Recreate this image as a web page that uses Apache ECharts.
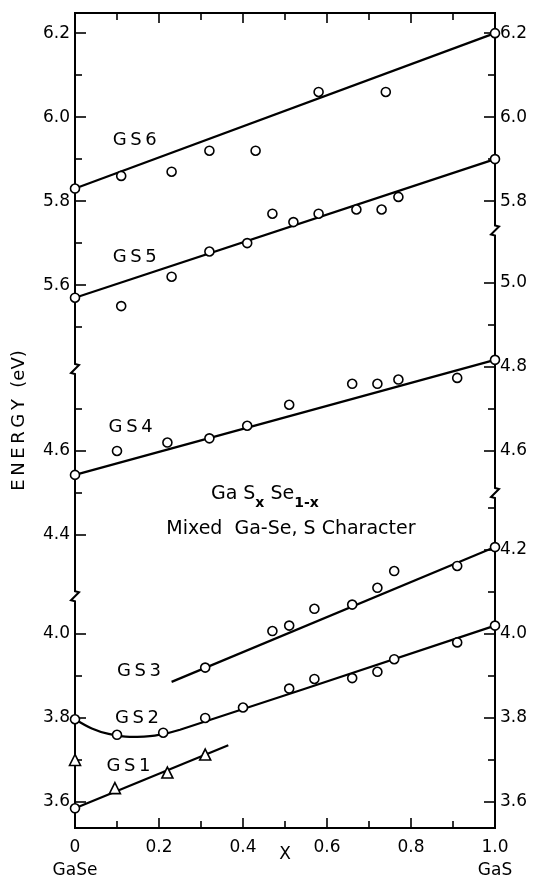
<!DOCTYPE html>
<html><head><meta charset="utf-8">
<script src="https://cdn.jsdelivr.net/npm/echarts@6/dist/echarts.min.js"></script>
<style>html,body{margin:0;padding:0;background:#fff}#c{width:542px;height:878px}</style>
</head><body><div id="c"></div>
<script>
// ---------- data (energies in eV, x = S fraction) ----------
const gs6X = [0, 0.11, 0.23, 0.32, 0.43, 0.58, 0.74, 1.0];
const gs6Y = [5.83, 5.86, 5.87, 5.92, 5.92, 6.06, 6.06, 6.20];
const gs5X = [0, 0.11, 0.23, 0.32, 0.41, 0.47, 0.52, 0.58, 0.67, 0.73, 0.77, 1.0];
const gs5Y = [5.57, 5.55, 5.62, 5.68, 5.70, 5.77, 5.75, 5.77, 5.78, 5.78, 5.81, 5.90];
const gs4X = [0, 0.10, 0.22, 0.32, 0.41, 0.51, 0.66, 0.72, 0.77, 0.91, 1.0];
const gs4Y = [4.543, 4.60, 4.62, 4.63, 4.66, 4.71, 4.76, 4.76, 4.77, 4.774, 4.817];
const gs3X = [0.31, 0.47, 0.51, 0.57, 0.66, 0.72, 0.76, 0.91, 1.0];
const gs3Y = [3.92, 4.007, 4.02, 4.06, 4.07, 4.11, 4.15, 4.162, 4.207];
const gs2X = [0, 0.10, 0.21, 0.31, 0.40, 0.51, 0.57, 0.66, 0.72, 0.76, 0.91, 1.0];
const gs2Y = [3.797, 3.76, 3.765, 3.80, 3.825, 3.87, 3.893, 3.895, 3.91, 3.94, 3.98, 4.02];
const gs1TriX = [0, 0.095, 0.22, 0.31];
const gs1TriY = [3.70, 3.633, 3.67, 3.713];
const gs1CircX = [0];
const gs1CircY = [3.585];

// fitted curves (vertices)
const fit6X = [0, 1.0],   fit6Y = [5.83, 6.20];
const fit5X = [0, 1.0],   fit5Y = [5.57, 5.90];
const fit4X = [0, 1.0],   fit4Y = [4.543, 4.817];
const fit3X = [0.23, 1.0], fit3Y = [3.886, 4.207];
const fit2X = [0, 0.04, 0.08, 0.13, 0.19, 0.25, 1.0];
const fit2Y = [3.797, 3.775, 3.762, 3.755, 3.758, 3.772, 4.02];
const fit1X = [0, 0.365], fit1Y = [3.585, 3.735];

// axis tick values per broken-axis segment
const xLabelTicks = [0, 0.2, 0.4, 0.6, 0.8, 1.0];
const leftLowMajor = [3.6, 3.8, 4.0],           leftLowMinor = [3.7, 3.9];
const leftMidMajor = [4.4, 4.6],                leftMidMinor = [4.5, 4.7];
const leftUpMajor  = [5.6, 5.8, 6.0, 6.2],      leftUpMinor  = [5.5, 5.7, 5.9, 6.1];
const rightLowMajor = [3.6, 3.8, 4.0, 4.2],     rightLowMinor = [3.7, 3.9, 4.1, 4.3];
const rightMidMajor = [4.6, 4.8, 5.0],          rightMidMinor = [4.7, 4.9];
const rightUpMajor  = [5.8, 6.0, 6.2],          rightUpMinor  = [5.9, 6.1];

// segment value ranges (lower segment) and shifts of the other segments
const Y_MIN = 3.538, Y_MAX = 5.479;
const MID_OFF = 0.164, UP_OFF = 0.769;

// break positions: [segment, value]
const leftBreaks  = [['up', 5.40], ['low', 4.09]];
const rightBreaks = [['up', 5.73], ['mid', 4.50]];

// text labels: [text, x, energy, segment]
const curveLabels = [
  ['G\u2009S\u20096', 0.09, 5.945, 'up'],
  ['G\u2009S\u20095', 0.09, 5.667, 'up'],
  ['G\u2009S\u20094', 0.08, 4.657, 'mid'],
  ['G\u2009S\u20093', 0.10, 3.91, 'low'],
  ['G\u2009S\u20092', 0.095, 3.80, 'low'],
  ['G\u2009S\u20091', 0.075, 3.685, 'low']
];
const noteFormula = [0.452, 4.49, 'mid'];
const noteText = ['Mixed  Ga-Se, S Character', 0.514, 4.415, 'mid'];
const yName = 'E\u2009N\u2009E\u2009R\u2009G\u2009Y  (eV)';

// ---------- chart ----------
const FONT = 'DejaVu Sans';
const pts = (xs, ys) => xs.map((x, i) => [x, ys[i]]);
const SEG = {low: 0, mid: 2, up: 4};

function yAx(position, off, ticks, len, showLabel, name) {
  const a = {
    type: 'value', position,
    min: +(Y_MIN + off).toFixed(4), max: +(Y_MAX + off).toFixed(4),
    axisLine: {show: false}, splitLine: {show: false},
    axisTick: {show: true, inside: true, length: len, customValues: ticks,
               lineStyle: {color: '#000', width: 1.6}},
    axisLabel: {show: showLabel, customValues: ticks, margin: 5,
                formatter: v => Number(v).toFixed(1),
                color: '#000', fontFamily: FONT, fontSize: 17}
  };
  if (name) {
    a.name = name; a.nameLocation = 'middle'; a.nameGap = 47; a.nameMoveOverlap = false;
    a.nameTextStyle = {color: '#000', fontFamily: FONT, fontSize: 18};
  }
  return a;
}

const yAxes = [
  yAx('left', 0, leftLowMajor, 11, true, yName),
  yAx('left', 0, leftLowMinor, 7, false),
  yAx('left', MID_OFF, leftMidMajor, 11, true),
  yAx('left', MID_OFF, leftMidMinor, 7, false),
  yAx('left', UP_OFF, leftUpMajor, 11, true),
  yAx('left', UP_OFF, leftUpMinor, 7, false),
  yAx('right', 0, rightLowMajor, 11, true),
  yAx('right', 0, rightLowMinor, 7, false),
  yAx('right', MID_OFF, rightMidMajor, 11, true),
  yAx('right', MID_OFF, rightMidMinor, 7, false),
  yAx('right', UP_OFF, rightUpMajor, 11, true),
  yAx('right', UP_OFF, rightUpMinor, 7, false)
];

const xBase = {
  type: 'value', min: 0, max: 1, interval: 0.2,
  axisLine: {show: false}, splitLine: {show: false},
  axisTick: {show: true, inside: true, length: 10, lineStyle: {color: '#000', width: 1.6}},
  minorTick: {show: true, splitNumber: 2, length: 7, lineStyle: {color: '#000', width: 1.6}}
};
const xAxes = [
  Object.assign({}, xBase, {
    position: 'bottom', name: 'X', nameLocation: 'middle', nameGap: 18, nameMoveOverlap: false,
    nameTextStyle: {color: '#000', fontFamily: FONT, fontSize: 17},
    axisLabel: {color: '#000', fontFamily: FONT, fontSize: 17, margin: 8, lineHeight: 23,
      customValues: xLabelTicks,
      formatter: v => Math.abs(v) < 1e-9 ? '0\nGaSe' : (Math.abs(v - 1) < 1e-9 ? '1.0\nGaS' : Number(v).toFixed(1))}
  }),
  Object.assign({}, xBase, {position: 'top', axisLabel: {show: false}})
];

const line = (xs, ys, seg, smooth) => ({
  type: 'line', xAxisIndex: 0, yAxisIndex: SEG[seg], data: pts(xs, ys),
  symbol: 'none', smooth: smooth || false, clip: false, silent: true, z: 2,
  lineStyle: {color: '#000', width: 2.2}
});
const dots = (xs, ys, seg, sym) => ({
  type: 'scatter', xAxisIndex: 0, yAxisIndex: SEG[seg], data: pts(xs, ys),
  symbol: sym || 'circle', symbolSize: sym === 'triangle' ? 11 : 9, clip: false, z: 3,
  itemStyle: {color: '#fff', borderColor: '#000', borderWidth: 1.6, opacity: 1}
});

const option = {
  animation: false,
  backgroundColor: '#fff',
  grid: {left: 75, right: 47, top: 13, bottom: 50, show: true, outerBoundsMode: 'none',
         containLabel: false,
         borderColor: '#000', borderWidth: 2, backgroundColor: 'transparent'},
  xAxis: xAxes,
  yAxis: yAxes,
  series: [
    line(fit6X, fit6Y, 'up'), line(fit5X, fit5Y, 'up'), line(fit4X, fit4Y, 'mid'),
    line(fit3X, fit3Y, 'low'), line(fit2X, fit2Y, 'low', 0.35), line(fit1X, fit1Y, 'low'),
    dots(gs6X, gs6Y, 'up'), dots(gs5X, gs5Y, 'up'), dots(gs4X, gs4Y, 'mid'),
    dots(gs3X, gs3Y, 'low'), dots(gs2X, gs2Y, 'low'),
    dots(gs1TriX, gs1TriY, 'low', 'triangle'), dots(gs1CircX, gs1CircY, 'low')
  ]
};

const chart = echarts.init(document.getElementById('c'));
chart.setOption(option);

// ---------- overlay graphics: axis breaks and text ----------
const px = (x, v, seg) => chart.convertToPixel({xAxisIndex: 0, yAxisIndex: SEG[seg]}, [x, v]);
const g = [];
function zig(xv, seg, v) {
  const p = px(xv, v, seg);
  g.push({type: 'rect', shape: {x: p[0] - 5, y: p[1] - 8, width: 10, height: 16},
          style: {fill: '#fff'}, z: 100});
  g.push({type: 'polyline', z: 101,
          shape: {points: [[p[0], p[1] - 9], [p[0], p[1] - 5], [p[0] + 4, p[1] - 4],
                           [p[0] - 4, p[1] + 4], [p[0], p[1] + 5], [p[0], p[1] + 9]]},
          style: {stroke: '#000', lineWidth: 2, fill: null}});
}
leftBreaks.forEach(b => zig(0, b[0], b[1]));
rightBreaks.forEach(b => zig(1, b[0], b[1]));

curveLabels.forEach(l => {
  const p = px(l[1], l[2], l[3]);
  g.push({type: 'text', x: p[0], y: p[1], z: 50,
          style: {text: l[0], fill: '#000', font: '18px "' + FONT + '"',
                  textAlign: 'left', textVerticalAlign: 'middle'}});
});
{
  const p = px(noteFormula[0], noteFormula[1], noteFormula[2]);
  g.push({type: 'text', x: p[0], y: p[1], z: 50,
          style: {text: '{n|Ga S}{s|x}{n| Se}{s|1-x}', fill: '#000',
                  textAlign: 'center', textVerticalAlign: 'middle',
                  rich: {n: {fontFamily: FONT, fontSize: 19, lineHeight: 26, verticalAlign: 'top'},
                         s: {fontFamily: FONT, fontSize: 14, lineHeight: 26, verticalAlign: 'bottom', fontWeight: 'bold'}}}});
  const q = px(noteText[1], noteText[2], noteText[3]);
  g.push({type: 'text', x: q[0], y: q[1], z: 50,
          style: {text: noteText[0], fill: '#000', font: '19px "' + FONT + '"',
                  textAlign: 'center', textVerticalAlign: 'middle'}});
}
chart.setOption({graphic: g});
</script>
</body></html>
